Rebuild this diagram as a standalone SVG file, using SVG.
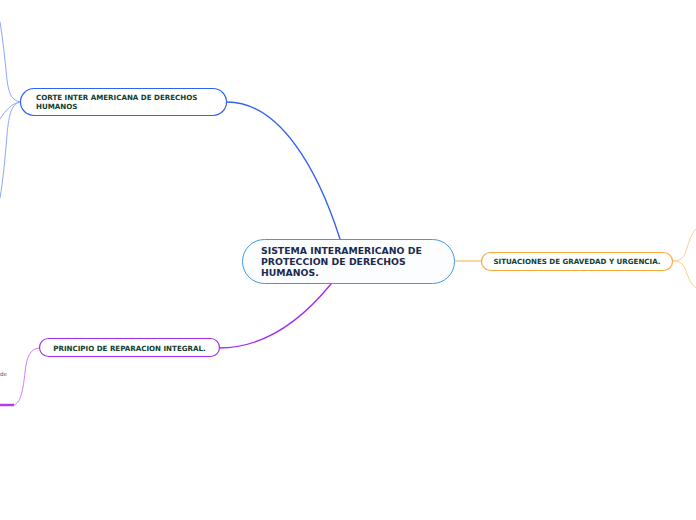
<svg xmlns="http://www.w3.org/2000/svg" width="696" height="520" viewBox="0 0 696 520">
<style>
.t{font-family:"DejaVu Sans",Verdana,sans-serif;font-weight:bold}
.main{font-size:9.3px;fill:#1b2a4e}
.sub{font-size:7.1px;fill:#0f3d2e}
.c{fill:none;stroke-linecap:round}
</style>
<rect width="696" height="520" fill="#ffffff"/>
<g id="connectors">
<path class="c" d="M340,239 C318,170 280,102 227,102" stroke="#2f62f0" stroke-width="1.4"/>
<path class="c" d="M331,284 C300,322 262,348 219,348" stroke="#a52ef2" stroke-width="1.4"/>
<path class="c" d="M455,261 L481,261" stroke="#f6ad45" stroke-width="1"/>
<path class="c" d="M20,102 C12,100 9,95 7,80 C5,60 3,40 0,22" stroke="#8fa8fb" stroke-width="1"/>
<path class="c" d="M20,102 C12,103 6,110 0,119" stroke="#8fa8fb" stroke-width="1"/>
<path class="c" d="M20,102 C12,104 9,112 7,135 C5,160 3,180 0,198" stroke="#8fa8fb" stroke-width="1"/>
<path class="c" d="M39,348 C30,349 27,356 25,372 C23,392 20,404 14,405" stroke="#d27df7" stroke-width="1"/>
<path d="M0,405 L14,405" stroke="#b23ef2" stroke-width="2.5" fill="none"/>
<path class="c" d="M673,261 C681,261 684,258 687,248 C690,238 693,231 696,229" stroke="#fbd08f" stroke-width="1"/>
<path class="c" d="M673,261 C681,261 684,264 687,274 C690,282 693,286 696,288" stroke="#fbd08f" stroke-width="1"/>
</g>
<g id="central">
<rect x="242.5" y="239.5" width="212" height="44" rx="22" fill="#fbfdff" stroke="#4a98d8" stroke-width="1"/>
<text class="t main" x="261" y="254">SISTEMA INTERAMERICANO DE</text>
<text class="t main" x="261" y="265">PROTECCION DE DERECHOS</text>
<text class="t main" x="261" y="276">HUMANOS.</text>
</g>
<g id="corte">
<rect x="20.5" y="88.5" width="206" height="27" rx="13.5" fill="#ffffff" stroke="#2f62f0" stroke-width="1.2"/>
<text class="t sub" x="36" y="100">CORTE INTER AMERICANA DE DERECHOS</text>
<text class="t sub" x="36" y="109">HUMANOS</text>
</g>
<g id="situaciones">
<rect x="481.5" y="252.5" width="191" height="18" rx="9" fill="#ffffff" stroke="#f6a93a" stroke-width="1.2"/>
<text class="t sub" x="577" y="264" text-anchor="middle">SITUACIONES DE GRAVEDAD Y URGENCIA.</text>
</g>
<g id="principio">
<rect x="39.5" y="338.5" width="180" height="18" rx="9" fill="#ffffff" stroke="#a52ef2" stroke-width="1.2"/>
<text class="t sub" x="129.5" y="350.5" text-anchor="middle">PRINCIPIO DE REPARACION INTEGRAL.</text>
</g>
<g id="fragment">
<text x="0" y="376" font-family="DejaVu Sans,sans-serif" font-size="5.5" fill="#555555">de</text>
</g>
</svg>
